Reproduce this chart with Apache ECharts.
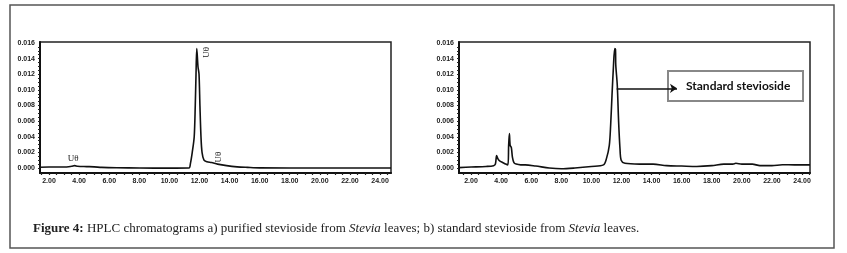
<!DOCTYPE html>
<html>
<head>
<meta charset="utf-8">
<script src="https://cdn.jsdelivr.net/npm/echarts@6/dist/echarts.min.js"></script>
<style>
  html, body { margin: 0; padding: 0; background: #fff; }
</style>
</head>
<body>
<div id="main" style="width:847px;height:253px;"></div>
<script>
// a) purified stevioside: [retention time (min), absorbance]
const purifiedTrace = [
  [1.4, 0.0001], [2.0, 0.00012], [3.0, 0.00012], [3.5, 0.00022], [3.7, 0.0003], [3.9, 0.00022],
  [4.5, 0.00018], [5.0, 0.00015], [5.5, 0.00008], [6.5, 0.00003], [8.0, 0.0], [10.0, -0.00002],
  [11.3, 0.0], [11.4, 0.0006], [11.52, 0.002], [11.65, 0.004], [11.72, 0.008], [11.77, 0.012],
  [11.82, 0.0153], [11.9, 0.013], [11.97, 0.012], [12.03, 0.008], [12.1, 0.004], [12.17, 0.002],
  [12.3, 0.001], [12.5, 0.0008], [12.8, 0.0007], [13.2, 0.0005], [13.8, 0.0003], [14.5, 0.00015],
  [15.2, 0.00008], [16.0, 0.00002], [20.0, 0.0], [24.73, 0.0]
]
// b) standard stevioside
const standardTrace = [
  [1.2, 0.00005], [2.0, 0.00012], [3.0, 0.0002], [3.5, 0.0003], [3.62, 0.0005], [3.7, 0.0016],
  [3.78, 0.0012], [3.9, 0.0009], [4.1, 0.0007], [4.3, 0.0005], [4.45, 0.0004], [4.5, 0.0029],
  [4.55, 0.0044], [4.6, 0.0029], [4.68, 0.0026], [4.75, 0.0014], [4.85, 0.0007], [5.0, 0.0005],
  [5.3, 0.0004], [5.6, 0.0004], [6.3, 0.00025], [7.2, 0.0], [8.0, -0.0001], [8.9, 0.0],
  [10.0, 0.0002], [10.8, 0.0004], [11.0, 0.0012], [11.19, 0.0029], [11.28, 0.0055], [11.37, 0.0093],
  [11.46, 0.0128], [11.55, 0.0153], [11.6, 0.0152], [11.62, 0.0132], [11.72, 0.0106], [11.81, 0.0059],
  [11.9, 0.0025], [11.98, 0.001], [12.23, 0.0006], [13.2, 0.0005], [14.1, 0.0005], [15.0, 0.0003],
  [16.0, 0.00025], [17.0, 0.0002], [18.0, 0.0003], [18.8, 0.0005], [19.4, 0.0005], [19.6, 0.0006],
  [20.0, 0.0005], [20.7, 0.0005], [21.2, 0.0003], [22.0, 0.0003], [22.7, 0.00042], [23.5, 0.0004],
  [24.53, 0.0004]
]
// peak labels in chart a): [x, y, rotate]
const peakLabels = [[3.6, 0.0012, 0], [12.5, 0.0148, 90], [13.3, 0.0014, 90]]
const peakLabelText = 'Uθ'
// arrow pointing at standard peak: from / to
const arrowFrom = [11.68, 0.0102]
const arrowTo = [15.69, 0.0102]
const annotationText = 'Standard stevioside'

const xTickLabels = [2, 4, 6, 8, 10, 12, 14, 16, 18, 20, 22, 24]
const xMinorTicks = []
for (let v = 1.5; v <= 24.5; v += 0.5) xMinorTicks.push(v)
const yTickLabels = [0, 0.002, 0.004, 0.006, 0.008, 0.010, 0.012, 0.014, 0.016]
const yMinorTicks = []
for (let v = 0; v <= 0.016; v += 0.0005) yMinorTicks.push(+v.toFixed(4))

const caption = '{b|Figure 4:} HPLC chromatograms a) purified stevioside from {i|Stevia} leaves; b) standard stevioside from {i|Stevia} leaves.'

let myChart = echarts.init(document.getElementById('main'))

function makeX(idx, min, max) {
  return {
    type: 'value', gridIndex: idx, min: min, max: max,
    axisLine: { show: true, onZero: false, lineStyle: { color: '#111', width: 2 } },
    axisTick: { show: true, customValues: xMinorTicks, length: 2, lineStyle: { color: '#222', width: 1.2 } },
    axisLabel: {
      customValues: xTickLabels, margin: 5,
      formatter: (v) => v.toFixed(2),
      color: '#222', fontSize: 7, fontWeight: 'bold', fontFamily: 'Liberation Sans'
    },
    splitLine: { show: false }
  }
}
function makeY(idx) {
  return {
    type: 'value', gridIndex: idx, min: -0.00064, max: 0.01613,
    axisLine: { show: true, onZero: false, lineStyle: { color: '#111', width: 2 } },
    axisTick: { show: true, customValues: yMinorTicks, length: 2, lineStyle: { color: '#222', width: 1.2 } },
    axisLabel: {
      customValues: yTickLabels, margin: 5,
      formatter: (v) => v.toFixed(3),
      color: '#222', fontSize: 7, fontWeight: 'bold', fontFamily: 'Liberation Sans'
    },
    splitLine: { show: false }
  }
}

const option = {
  animation: false,
  backgroundColor: '#fff',
  grid: [
    { left: 40, top: 42, width: 351, height: 131, show: true, borderColor: '#222', borderWidth: 1.5, backgroundColor: 'transparent' },
    { left: 459, top: 42, width: 351, height: 131, show: true, borderColor: '#222', borderWidth: 1.5, backgroundColor: 'transparent' }
  ],
  xAxis: [makeX(0, 1.4, 24.73), makeX(1, 1.2, 24.53)],
  yAxis: [makeY(0), makeY(1)],
  series: [
    {
      type: 'line', xAxisIndex: 0, yAxisIndex: 0,
      data: purifiedTrace, showSymbol: false, smooth: 0.3, clip: false,
      lineStyle: { color: '#111', width: 1.6 },
      markPoint: {
        symbol: 'circle', symbolSize: 0, silent: true,
        label: {
          show: true, position: 'inside', formatter: peakLabelText,
          color: '#222', fontSize: 9, fontFamily: 'Liberation Serif'
        },
        data: peakLabels.map((p) => ({ coord: [p[0], p[1]], label: { rotate: p[2] } }))
      }
    },
    {
      type: 'line', xAxisIndex: 1, yAxisIndex: 1,
      data: standardTrace, showSymbol: false, smooth: 0.3, clip: false,
      lineStyle: { color: '#111', width: 1.6 },
      markLine: {
        silent: true, symbol: ['none', 'arrow'], symbolSize: 7,
        label: { show: false },
        lineStyle: { color: '#111', width: 1.5, type: 'solid' },
        data: [[{ coord: arrowFrom }, { coord: arrowTo }]],
        z: 10
      }
    }
  ],
  graphic: [
    // outer frame
    { type: 'rect', shape: { x: 10, y: 5, width: 824, height: 243 }, style: { fill: 'none', stroke: '#555', lineWidth: 1.5 }, z: -10 },
    // annotation box
    { type: 'rect', shape: { x: 668, y: 71, width: 135, height: 30 }, style: { fill: '#fff', stroke: '#888', lineWidth: 2 }, z: 0 },
    { type: 'text', x: 686, y: 86, style: { text: annotationText, font: 'bold 12px Lato', fill: '#111', verticalAlign: 'middle' }, z: 1 },
    {
      type: 'text', x: 33, y: 229,
      style: {
        text: caption, fontSize: 13, fontFamily: 'Liberation Serif', fill: '#222', verticalAlign: 'middle',
        rich: {
          b: { fontWeight: 'bold', fontSize: 13, fontFamily: 'Liberation Serif', fill: '#222' },
          i: { fontStyle: 'italic', fontSize: 13, fontFamily: 'Liberation Serif', fill: '#222' }
        }
      }
    }
  ]
}
myChart.setOption(option)
</script>
</body>
</html>
